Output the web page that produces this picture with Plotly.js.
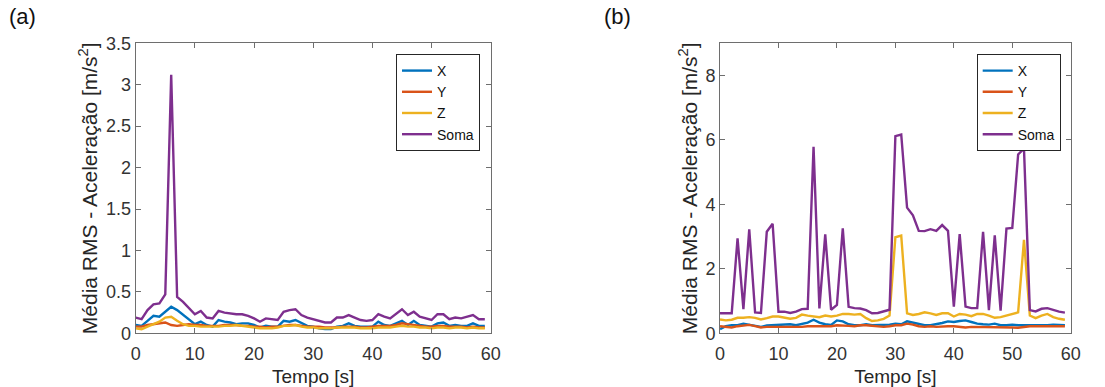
<!DOCTYPE html>
<html>
<head>
<meta charset="utf-8">
<script src="https://cdn.plot.ly/plotly-3.0.1.min.js"></script>
<style>html,body{margin:0;padding:0;background:#fff;}#chart{width:1105px;height:387px;}</style>
</head>
<body>
<div id="chart"></div>
<script>
// Time axis (s)
const tempo = Array.from({length: 60}, (_, i) => i);

// Panel (a)
const a_X = [0.10,0.09,0.15,0.21,0.20,0.26,0.32,0.28,0.22,0.16,0.11,0.14,0.10,0.08,0.16,0.14,0.13,0.11,0.12,0.12,0.10,0.07,0.09,0.08,0.08,0.15,0.14,0.16,0.12,0.09,0.08,0.06,0.05,0.05,0.08,0.09,0.12,0.09,0.08,0.08,0.08,0.14,0.10,0.09,0.12,0.15,0.10,0.15,0.10,0.09,0.08,0.12,0.13,0.09,0.10,0.09,0.09,0.12,0.09,0.09];
const a_Y = [0.08,0.08,0.10,0.11,0.12,0.13,0.10,0.09,0.10,0.11,0.10,0.10,0.09,0.09,0.09,0.10,0.10,0.10,0.09,0.09,0.08,0.08,0.07,0.08,0.08,0.09,0.10,0.10,0.09,0.08,0.08,0.08,0.07,0.07,0.07,0.08,0.08,0.08,0.07,0.07,0.08,0.09,0.09,0.09,0.10,0.12,0.11,0.10,0.09,0.08,0.08,0.09,0.09,0.08,0.08,0.08,0.07,0.08,0.07,0.07];
const a_Z = [0.06,0.05,0.08,0.11,0.14,0.19,0.20,0.15,0.11,0.09,0.09,0.08,0.08,0.08,0.08,0.09,0.09,0.10,0.09,0.08,0.07,0.06,0.06,0.06,0.07,0.09,0.09,0.10,0.08,0.07,0.07,0.06,0.06,0.06,0.07,0.07,0.07,0.07,0.06,0.06,0.06,0.07,0.07,0.07,0.08,0.09,0.08,0.08,0.07,0.07,0.06,0.07,0.07,0.06,0.07,0.07,0.06,0.07,0.06,0.06];
const a_Soma = [0.19,0.17,0.28,0.35,0.36,0.47,3.12,0.44,0.38,0.30,0.23,0.27,0.19,0.18,0.27,0.25,0.24,0.23,0.23,0.21,0.18,0.14,0.18,0.17,0.16,0.26,0.28,0.29,0.22,0.19,0.17,0.15,0.13,0.13,0.19,0.19,0.22,0.19,0.16,0.15,0.16,0.23,0.20,0.18,0.23,0.29,0.22,0.26,0.20,0.18,0.16,0.23,0.23,0.17,0.19,0.18,0.20,0.22,0.17,0.17];

// Panel (b)
const b_X = [0.13,0.22,0.25,0.25,0.30,0.27,0.22,0.20,0.24,0.25,0.25,0.27,0.28,0.25,0.28,0.33,0.42,0.33,0.28,0.26,0.40,0.37,0.28,0.25,0.25,0.28,0.25,0.25,0.27,0.27,0.30,0.28,0.37,0.33,0.28,0.25,0.25,0.28,0.32,0.37,0.35,0.38,0.40,0.35,0.30,0.28,0.27,0.30,0.25,0.25,0.27,0.25,0.24,0.25,0.25,0.24,0.25,0.27,0.25,0.25];
const b_Y = [0.22,0.20,0.18,0.22,0.25,0.26,0.22,0.18,0.20,0.20,0.20,0.18,0.20,0.18,0.20,0.22,0.22,0.20,0.22,0.22,0.25,0.25,0.23,0.22,0.25,0.25,0.23,0.22,0.20,0.22,0.25,0.25,0.30,0.27,0.22,0.20,0.22,0.20,0.22,0.22,0.22,0.20,0.18,0.20,0.20,0.18,0.18,0.18,0.20,0.20,0.18,0.17,0.20,0.22,0.22,0.22,0.20,0.20,0.22,0.22];
const b_Z = [0.43,0.40,0.42,0.48,0.48,0.50,0.48,0.43,0.47,0.52,0.52,0.48,0.45,0.48,0.58,0.55,0.52,0.50,0.55,0.52,0.55,0.60,0.60,0.58,0.60,0.47,0.38,0.40,0.45,0.55,2.98,3.03,0.62,0.57,0.60,0.65,0.62,0.57,0.62,0.62,0.52,0.60,0.58,0.53,0.60,0.60,0.55,0.48,0.50,0.55,0.60,0.65,2.90,0.55,0.47,0.55,0.60,0.50,0.45,0.42];
const b_Soma = [0.62,0.62,0.62,2.95,0.75,3.23,0.65,0.63,3.15,3.40,0.67,0.67,0.63,0.67,0.75,0.76,5.79,0.77,3.07,0.73,0.88,3.26,0.82,0.78,0.77,0.72,0.62,0.63,0.67,0.73,6.12,6.17,3.90,3.66,3.18,3.17,3.23,3.18,3.36,3.18,0.83,3.08,0.83,0.78,0.78,3.15,0.72,3.04,0.70,3.25,3.27,5.55,5.73,0.72,0.68,0.76,0.78,0.72,0.67,0.64];

const names = ['X','Y','Z','Soma'];
const colors = ['#0072BD','#D95319','#EDB120','#7E2F8E'];

const font = {family: 'Liberation Sans, Arial, sans-serif', color: '#262626'};
const traces = [];
[[a_X,a_Y,a_Z,a_Soma],[b_X,b_Y,b_Z,b_Soma]].forEach((set, p) => {
  set.forEach((vals, i) => {
    traces.push({
      x: tempo, y: vals, type: 'scatter', mode: 'lines', name: names[i],
      line: {color: colors[i], width: 2.4},
      xaxis: p === 0 ? 'x' : 'x2', yaxis: p === 0 ? 'y' : 'y2',
      legend: p === 0 ? 'legend' : 'legend2'
    });
  });
});

const axBase = {
  showgrid: false, zeroline: false, showline: true, mirror: 'ticks',
  linecolor: '#6e6e6e', linewidth: 1, ticks: 'inside', ticklen: 5, tickcolor: '#6e6e6e',
  tickfont: {size: 18, family: font.family, color: '#333'}
};
const ytitle = 'Média RMS - Aceleração [m/s<sup>2</sup>]';
const legBase = {
  bordercolor: '#262626', borderwidth: 1, bgcolor: '#fff',
  font: {size: 14, family: font.family, color: '#111'},
  xanchor: 'right', yanchor: 'top', itemwidth: 30, tracegroupgap: 0
};

const layout = {
  width: 1105, height: 387,
  margin: {l: 0, r: 0, t: 0, b: 0},
  paper_bgcolor: '#fff', plot_bgcolor: '#fff',
  font: font,
  xaxis: Object.assign({}, axBase, {domain: [0.1228, 0.4441], range: [0, 60], dtick: 10, ticklabelstandoff: 4,
    title: {text: 'Tempo [s]', font: {size: 19}, standoff: 6}}),
  yaxis: Object.assign({}, axBase, {domain: [0.1388, 0.8881], range: [0, 3.5], dtick: 0.5, anchor: 'x',
    title: {text: ytitle, font: {size: 21}, standoff: 2}}),
  xaxis2: Object.assign({}, axBase, {domain: [0.6516, 0.9690], range: [0, 60], dtick: 10, anchor: 'y2', ticklabelstandoff: 4,
    title: {text: 'Tempo [s]', font: {size: 19}, standoff: 6}}),
  yaxis2: Object.assign({}, axBase, {domain: [0.1388, 0.8881], range: [0, 9], tickvals: [0,2,4,6,8], anchor: 'x2',
    title: {text: ytitle, font: {size: 21}, standoff: 2}}),
  legend: Object.assign({}, legBase, {x: 0.4344, y: 0.8605}),
  legend2: Object.assign({}, legBase, {x: 0.9599, y: 0.8605}),
  annotations: [
    {text: '(a)', x: 0.006, y: 0.995, xref: 'paper', yref: 'paper', xanchor: 'left', yanchor: 'top', showarrow: false, font: {size: 22, color: '#111'}},
    {text: '(b)', x: 0.545, y: 0.995, xref: 'paper', yref: 'paper', xanchor: 'left', yanchor: 'top', showarrow: false, font: {size: 22, color: '#111'}}
  ],
  showlegend: true
};

Plotly.newPlot('chart', traces, layout, {staticPlot: true, displayModeBar: false});
</script>
</body>
</html>
